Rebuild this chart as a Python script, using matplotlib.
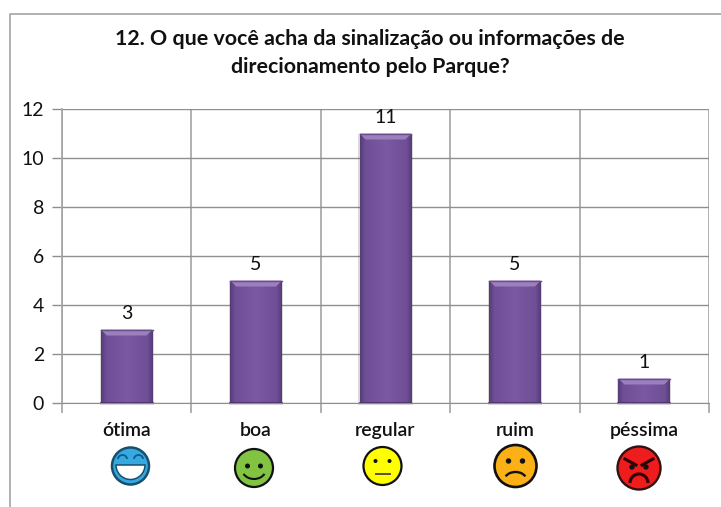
import numpy as np
import matplotlib
matplotlib.use("Agg")
import matplotlib.pyplot as plt
from matplotlib.patches import Rectangle, Polygon, Circle, Arc, Wedge
from matplotlib.colors import LinearSegmentedColormap

W, H = 721, 507
categories = ["ótima", "boa", "regular", "ruim", "péssima"]
values = [3, 5, 11, 5, 1]
y_ticks = [0, 2, 4, 6, 8, 10, 12]
title_lines = ["12. O que você acha da sinalização ou informações de",
               "direcionamento pelo Parque?"]

plt.rcParams["font.family"] = ["Lato", "DejaVu Sans"]

fig = plt.figure(figsize=(W / 100, H / 100), dpi=100, facecolor="white")

# chart frame and decorations in pixel coordinates
bg = fig.add_axes([0, 0, 1, 1], zorder=0)
bg.set_xlim(0, W)
bg.set_ylim(H, 0)
bg.axis("off")
bg.plot([9.5, 9.5, W + 2], [H + 2, 13.5, 13.5], color="#ababab", lw=1.3)

ax = fig.add_axes([62 / W, (H - 403) / H, (709 - 62) / W, (403 - 109) / H], zorder=1)
ax.patch.set_alpha(0)
x = np.arange(len(categories))
bar_w = 0.40
px_x = 6 / 129.4   # bevel size in data units
px_y = 6 / 24.5

ax.set_yticks(y_ticks)
ax.set_xticks(np.arange(-0.5, 5.0, 1.0))
ax.set_xticklabels([])
ax.grid(True, axis="y", color="#8f8f8f", lw=1.0, zorder=1)
ax.grid(True, axis="x", color="#a3a3a3", lw=1.2, zorder=1)
ax.set_axisbelow(True)
for s in ["top", "right"]:
    ax.spines[s].set_visible(False)
ax.spines["left"].set_color("#a3a3a3")
ax.spines["left"].set_linewidth(1.2)
ax.spines["bottom"].set_color("#8f8f8f")
ax.tick_params(axis="y", length=7, color="#8f8f8f", width=1.0,
               labelsize=14, pad=6, labelcolor="#111111")
ax.tick_params(axis="x", length=7, color="#a3a3a3", width=1.2)

cmap = LinearSegmentedColormap.from_list(
    "bar", [(0, "#573c7a"), (0.1, "#6f4f96"), (0.5, "#7c59a3"), (0.9, "#6f4f96"), (1, "#573c7a")])
grad = np.linspace(0, 1, 64).reshape(1, -1)

bars = ax.bar(x, values, width=bar_w, color="#7a579f", zorder=3)
for b, v in zip(bars, values):
    x0, x1 = b.get_x(), b.get_x() + b.get_width()
    ax.add_patch(Rectangle((x0 - 0.01, -0.08), x1 - x0 + 0.02, v + 0.08,
                           color="#555555", alpha=0.22, zorder=2.5, lw=0, clip_on=False))
    im = ax.imshow(grad, extent=[x0, x1, 0, v], aspect="auto", cmap=cmap, zorder=3.1)
    im.set_clip_path(b)
    ax.add_patch(Polygon([[x0, v], [x1, v], [x1 - px_x, v - px_y], [x0 + px_x, v - px_y]],
                         closed=True, color="#9c7fbd", lw=0, zorder=3.2))
    ax.plot([x0, x1], [v, v], color="#6a4d8e", lw=1.0, zorder=3.3)
    ax.plot([x0, x1], [0, 0], color="#4a3468", lw=1.2, zorder=3.3)
    ax.text(b.get_x() + b.get_width() / 2, v + 0.32, str(v), ha="center", va="bottom",
            fontsize=14, color="#111111", zorder=4)
ax.set_xlim(-0.5, 4.5)
ax.set_ylim(0, 12)

for xi, c in zip(x, categories):
    ax.annotate(c, (xi, 0), xytext=(0, -33), textcoords="offset pixels",
                ha="center", va="baseline", fontsize=14, color="#111111",
                fontweight="semibold", annotation_clip=False)

fig.text(370 / W, 1 - 39 / H, title_lines[0], ha="center", va="center", fontsize=15.4,
         fontweight="bold", color="#111111")
fig.text(370 / W, 1 - 67 / H, title_lines[1], ha="center", va="center", fontsize=15.4,
         fontweight="bold", color="#111111")


# emoticons (decoration, pixel coordinates)
def face(cx, cy, r, col, lw=1.6, ec="#111111"):
    bg.add_patch(Circle((cx, cy), r, fc=col, ec=ec, lw=lw, zorder=2))


def eyes(cx, cy, dx, dy, s):
    for sg in (-1, 1):
        bg.add_patch(Circle((cx + sg * dx, cy + dy), s, color="#111111", zorder=3))


# ótima
cx, cy = 130.5, 466
face(cx, cy, 18.5, "#35a9e0", lw=1.8, ec="#17506f")
bg.add_patch(Wedge((cx, cy - 1), 14.5, 0, 180, fc="white", ec="#17506f", lw=1.1, zorder=3))
for sg in (-1, 1):
    bg.add_patch(Arc((cx + sg * 8, cy - 7), 9, 8, theta1=180, theta2=360, color="#0b5e8a", lw=1.3, zorder=3))
# boa
cx, cy = 254, 468
face(cx, cy, 19, "#82c341")
eyes(cx, cy, 6.5, -2, 1.8)
bg.add_patch(Arc((cx, cy + 1), 24, 20, theta1=25, theta2=155, color="#111111", lw=1.5, zorder=3))
# regular
cx, cy = 382.5, 466
face(cx, cy, 19, "#ffff00")
eyes(cx, cy, 7, -5, 1.3)
bg.plot([cx - 7, cx + 7], [cy + 8, cy + 8], color="#555533", lw=1.4, zorder=3)
# ruim
cx, cy = 515.5, 466
face(cx, cy, 21, "#fbb116", lw=1.9)
eyes(cx, cy, 7, -5, 2)
bg.add_patch(Arc((cx, cy + 14), 22, 16, theta1=200, theta2=340, color="#111111", lw=1.7, zorder=3))
# péssima
cx, cy = 639, 468
face(cx, cy, 21.5, "#ee1c1c", lw=1.7, ec="#331111")
for sg in (-1, 1):
    bg.plot([cx + sg * 3, cx + sg * 14], [cy - 3, cy - 9], color="#300000", lw=2.2, zorder=3)
eyes(cx, cy, 7, -1, 2)
bg.add_patch(Arc((cx, cy + 15), 18, 18, theta1=180, theta2=360, color="#300000", lw=2.2, zorder=3))

fig.savefig("out.png", dpi=100)
